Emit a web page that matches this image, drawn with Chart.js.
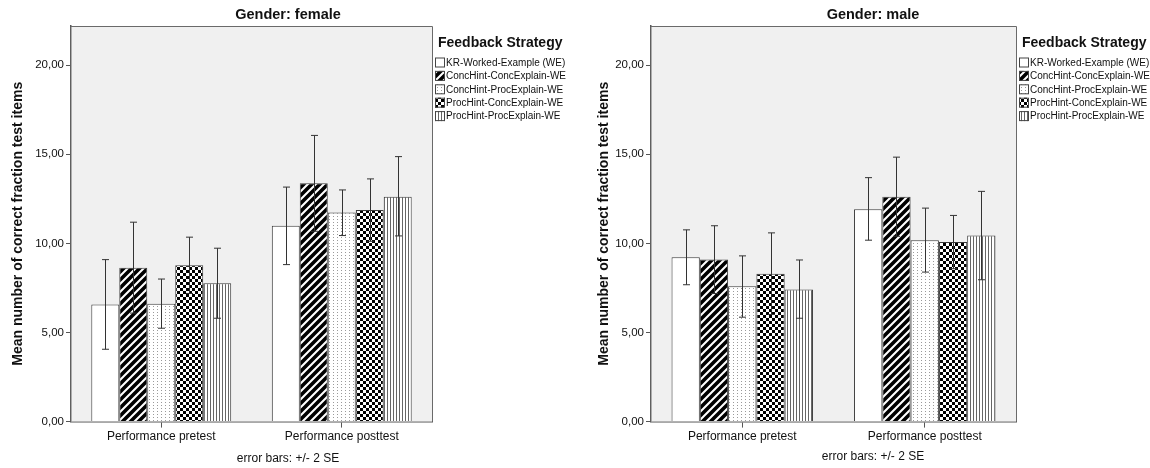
<!DOCTYPE html>
<html>
<head>
<meta charset="utf-8">
<script src="https://cdn.jsdelivr.net/npm/chart.js@4.4.1/dist/chart.umd.min.js"></script>
<style>
  html, body { margin: 0; padding: 0; background: #fff; }
  #wrap { position: relative; width: 1150px; height: 468px; overflow: hidden; }
  canvas { position: absolute; top: 0; }
  #female { left: 0; }
  #male { left: 580px; }
</style>
</head>
<body>
<div id="wrap">
  <canvas id="female" width="575" height="468"></canvas>
  <canvas id="male" width="570" height="468"></canvas>
</div>
<script>
const categories = ['Performance pretest', 'Performance posttest'];
const strategies = [
    'KR-Worked-Example (WE)',
    'ConcHint-ConcExplain-WE',
    'ConcHint-ProcExplain-WE',
    'ProcHint-ConcExplain-WE',
    'ProcHint-ProcExplain-WE'
];
const yTicks = [0, 5, 10, 15, 20];

// one row per strategy: [pretest, posttest]
const femaleMeans = [[6.57, 10.99], [8.64, 13.37], [6.61, 11.74], [8.77, 11.87], [7.77, 12.62]];
const femaleLow = [[4.06, 8.81], [6.09, 10.68], [5.24, 10.44], [7.19, 10.12], [5.80, 10.42]];
const femaleHigh = [[9.09, 13.16], [11.19, 16.06], [8.00, 13.00], [10.35, 13.62], [9.73, 14.87]];

const maleMeans = [[9.22, 11.92], [9.09, 12.62], [7.59, 10.18], [8.30, 10.08], [7.42, 10.44]];
const maleLow = [[7.68, 10.18], [7.19, 10.40], [5.86, 8.39], [6.01, 8.58], [5.80, 7.96]];
const maleHigh = [[10.76, 13.69], [10.99, 14.84], [9.30, 11.98], [10.59, 11.57], [9.07, 12.92]];

const FONT = "'Liberation Sans', Arial, sans-serif";

function makeTile(w, h, draw) {
    const c = document.createElement('canvas');
    c.width = w;
    c.height = h;
    const g = c.getContext('2d');
    g.fillStyle = '#fff';
    g.fillRect(0, 0, w, h);
    draw(g);
    return document.createElement('canvas').getContext('2d').createPattern(c, 'repeat');
}

const fills = [
    '#ffffff',
    makeTile(8, 8, g => {
        g.strokeStyle = '#000';
        g.lineWidth = 3.6;
        g.beginPath();
        g.moveTo(-2, 10); g.lineTo(10, -2);
        g.moveTo(-2, 2); g.lineTo(2, -2);
        g.moveTo(6, 10); g.lineTo(10, 6);
        g.stroke();
    }),
    makeTile(4, 3, g => {
        g.fillStyle = '#9a9a9a';
        g.fillRect(1, 0, 1, 1);
    }),
    makeTile(6, 6, g => {
        g.fillStyle = '#000';
        g.fillRect(0, 0, 3, 3);
        g.fillRect(3, 3, 3, 3);
    }),
    makeTile(3, 1, g => {
        g.fillStyle = '#666';
        g.fillRect(0, 0, 1, 1);
    })
];

const plotFrame = {
    id: 'plotFrame',
    beforeDatasetsDraw(chart) {
        const {ctx, chartArea: a} = chart;
        ctx.save();
        ctx.fillStyle = '#f0f0f0';
        ctx.fillRect(a.left, a.top, a.right - a.left, a.bottom - a.top);
        ctx.strokeStyle = '#6a6a6a';
        ctx.lineWidth = 1;
        ctx.beginPath();
        ctx.moveTo(a.left, a.bottom);
        ctx.lineTo(a.left, a.top + 0.5);
        ctx.lineTo(a.right + 0.5, a.top + 0.5);
        ctx.lineTo(a.right + 0.5, a.bottom);
        ctx.stroke();
        ctx.restore();
    }
};

const errorBars = {
    id: 'errorBars',
    afterDatasetsDraw(chart) {
        const {ctx} = chart;
        const y = chart.scales.y;
        ctx.save();
        ctx.strokeStyle = '#333';
        ctx.lineWidth = 1;
        chart.data.datasets.forEach((ds, i) => {
            chart.getDatasetMeta(i).data.forEach((bar, j) => {
                const x = Math.round(bar.x) + 0.5;
                const hi = y.getPixelForValue(ds.errHigh[j]);
                const lo = y.getPixelForValue(ds.errLow[j]);
                ctx.beginPath();
                ctx.moveTo(x, hi); ctx.lineTo(x, lo);
                ctx.moveTo(x - 3.5, hi); ctx.lineTo(x + 3.5, hi);
                ctx.moveTo(x - 3.5, lo); ctx.lineTo(x + 3.5, lo);
                ctx.stroke();
            });
        });
        ctx.restore();
    }
};

// panel title, footnote and the legend beside the plot
const panelText = {
    id: 'panelText',
    afterDraw(chart, args, opts) {
        const {ctx, chartArea: a} = chart;
        ctx.save();
        ctx.fillStyle = '#111';
        ctx.textBaseline = 'middle';
        ctx.textAlign = 'center';
        ctx.font = 'bold 14.5px ' + FONT;
        ctx.fillText(opts.title, opts.centerX, 15);
        ctx.font = '12px ' + FONT;
        ctx.fillText('error bars: +/- 2 SE', opts.centerX, opts.noteY);

        ctx.textAlign = 'left';
        const x0 = a.right + 3;
        ctx.font = 'bold 14px ' + FONT;
        ctx.fillText('Feedback Strategy', x0 + 3, 43);
        ctx.font = '10px ' + FONT;
        chart.data.datasets.forEach((ds, i) => {
            const cy = 62.5 + i * 13.4;
            ctx.fillStyle = ds.backgroundColor;
            ctx.fillRect(x0, cy - 5, 10, 10);
            ctx.strokeStyle = '#444';
            ctx.lineWidth = 1;
            ctx.strokeRect(x0 + 0.5, cy - 4.5, 9, 9);
            ctx.fillStyle = '#111';
            ctx.fillText(ds.label, x0 + 11, cy + 0.5);
        });
        ctx.restore();
    }
};

function makeChart(id, title, means, lows, highs, padLeft, padRight, centerX, noteY) {
    const datasets = strategies.map((name, i) => ({
        label: name,
        data: means[i],
        errLow: lows[i],
        errHigh: highs[i],
        backgroundColor: fills[i],
        borderColor: '#3a3a3a',
        borderWidth: 1,
        categoryPercentage: 0.775,
        barPercentage: 1.0
    }));

    new Chart(document.getElementById(id), {
        type: 'bar',
        data: {labels: categories, datasets: datasets},
        plugins: [plotFrame, errorBars, panelText],
        options: {
            responsive: false,
            animation: false,
            layout: {padding: {left: padLeft, right: padRight, top: 26, bottom: 22}},
            plugins: {
                legend: {display: false},
                tooltip: {enabled: false},
                panelText: {title: title, centerX: centerX, noteY: noteY}
            },
            scales: {
                x: {
                    grid: {display: true, drawOnChartArea: false, offset: false, tickLength: 6, color: '#555'},
                    border: {display: true, color: '#555', width: 1.5},
                    ticks: {color: '#111', font: {family: FONT, size: 12}, padding: 2, maxRotation: 0}
                },
                y: {
                    min: 0,
                    max: 22.2,
                    afterBuildTicks: s => { s.ticks = yTicks.map(v => ({value: v})); },
                    afterFit: s => { s.width = 71 - padLeft; },
                    grid: {display: true, drawOnChartArea: false, tickLength: 5, color: '#555'},
                    border: {display: true, color: '#555', width: 1.5},
                    ticks: {
                        color: '#111',
                        font: {family: FONT, size: 11.5},
                        padding: 2,
                        callback: v => v.toFixed(2).replace('.', ',')
                    },
                    title: {
                        display: true,
                        text: 'Mean number of correct fraction test items',
                        color: '#111',
                        font: {family: FONT, size: 14, weight: 'bold'},
                        padding: {top: 3, bottom: 3}
                    }
                }
            }
        }
    });
}

makeChart('female', 'Gender: female', femaleMeans, femaleLow, femaleHigh, 7, 143, 288, 459);
makeChart('male', 'Gender: male', maleMeans, maleLow, maleHigh, 13, 134, 293, 457);
</script>
</body>
</html>
